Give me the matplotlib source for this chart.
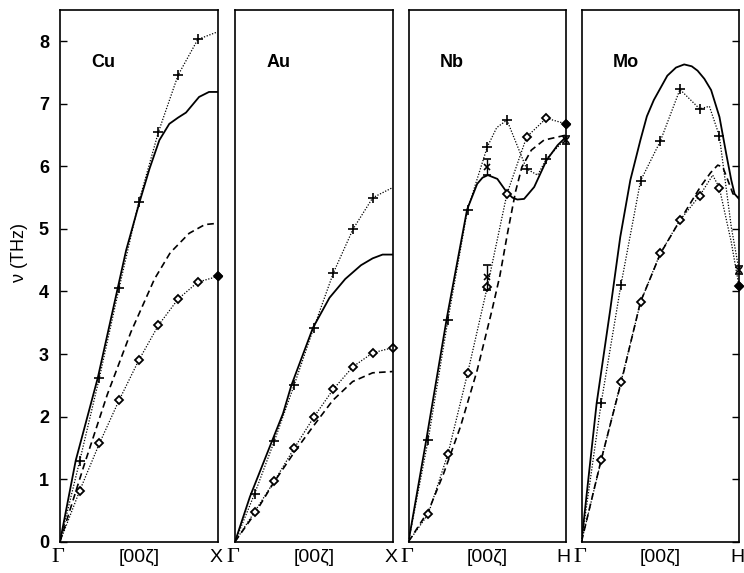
import matplotlib
matplotlib.use("Agg")
import matplotlib.pyplot as plt

plt.rcParams['font.family'] = ['Liberation Sans', 'DejaVu Sans']

# phonon frequencies (THz) along [00zeta]
# solid / dashed = calculated branches, '+' / diamond = measured branches

# Cu
cu_solid_z = [0, 0.1, 0.24, 0.42, 0.505, 0.568, 0.631, 0.694, 0.75, 0.8, 0.883, 0.946, 1.0]
cu_solid_v = [0, 1.30, 2.62, 4.66, 5.43, 5.96, 6.42, 6.68, 6.78, 6.86, 7.11, 7.19, 7.19]
cu_dash_z = [0, 0.15, 0.3, 0.45, 0.6, 0.7, 0.82, 0.92, 1.0]
cu_dash_v = [0, 1.2, 2.35, 3.35, 4.2, 4.62, 4.93, 5.07, 5.09]
cu_plus_z = [0, 0.125, 0.25, 0.375, 0.5, 0.625, 0.75, 0.875, 1.0]
cu_plus_v = [0, 1.29, 2.62, 4.05, 5.43, 6.55, 7.46, 8.03, 8.15]
cu_plus_mk = [1, 2, 3, 4, 5, 6, 7]
cu_dia_z = [0, 0.125, 0.25, 0.375, 0.5, 0.625, 0.75, 0.875, 1.0]
cu_dia_v = [0, 0.815, 1.57, 2.26, 2.90, 3.46, 3.88, 4.15, 4.24]
cu_dia_mk = [1, 2, 3, 4, 5, 6, 7, 8]

# Au
au_solid_z = [0, 0.095, 0.221, 0.305, 0.358, 0.495, 0.6, 0.7, 0.8, 0.874, 0.937, 1.0]
au_solid_v = [0, 0.72, 1.52, 2.05, 2.50, 3.42, 3.90, 4.20, 4.42, 4.53, 4.59, 4.59]
au_dash_z = [0, 0.126, 0.242, 0.379, 0.495, 0.621, 0.747, 0.874, 1.0]
au_dash_v = [0, 0.45, 0.93, 1.44, 1.84, 2.26, 2.56, 2.70, 2.72]
au_plus_z = [0, 0.125, 0.25, 0.375, 0.5, 0.625, 0.75, 0.875, 1.0]
au_plus_v = [0, 0.77, 1.61, 2.50, 3.42, 4.30, 5.00, 5.50, 5.66]
au_plus_mk = [1, 2, 3, 4, 5, 6, 7]
au_dia_z = [0, 0.125, 0.25, 0.375, 0.5, 0.625, 0.75, 0.875, 1.0]
au_dia_v = [0, 0.48, 0.97, 1.49, 1.99, 2.44, 2.80, 3.02, 3.10]
au_dia_mk = [1, 2, 3, 4, 5, 6, 7, 8]

# Nb
nb_solid_z = [0, 0.113, 0.245, 0.372, 0.436, 0.47, 0.504, 0.564, 0.623, 0.66, 0.691, 0.734, 0.798, 0.877, 0.947, 1.0]
nb_solid_v = [0, 1.63, 3.60, 5.31, 5.72, 5.82, 5.86, 5.80, 5.59, 5.50, 5.47, 5.48, 5.67, 6.10, 6.34, 6.47]
nb_dash_z = [0, 0.128, 0.223, 0.33, 0.436, 0.53, 0.58, 0.63, 0.68, 0.72, 0.78, 0.86, 1.0]
nb_dash_v = [0, 0.50, 1.09, 1.84, 2.74, 3.70, 4.25, 4.95, 5.60, 5.99, 6.26, 6.42, 6.50]
nb_plus_z = [0, 0.125, 0.25, 0.375, 0.5, 0.56, 0.625, 0.75, 0.82, 0.875, 1.0]
nb_plus_v = [0, 1.63, 3.54, 5.31, 6.31, 6.62, 6.74, 5.96, 5.86, 6.12, 6.45]
nb_plus_mk = [1, 2, 3, 4, 6, 7, 9]
nb_dia_z = [0, 0.125, 0.25, 0.375, 0.5, 0.625, 0.75, 0.875, 1.0]
nb_dia_v = [0, 0.44, 1.40, 2.69, 4.07, 5.56, 6.47, 6.77, 6.68]
nb_dia_mk = [1, 2, 3, 4, 5, 6, 7, 8]
nb_err_z = [0.5, 0.5, 1.0]
nb_err_v = [5.99, 4.23, 6.42]
nb_err_e = [0.13, 0.20, 0.06]

# Mo
mo_solid_z = [0, 0.096, 0.182, 0.246, 0.31, 0.374, 0.415, 0.459, 0.545, 0.6, 0.652, 0.7, 0.737, 0.78, 0.823, 0.876, 0.919, 0.951, 0.972, 1.0]
mo_solid_v = [0, 2.21, 3.70, 4.87, 5.78, 6.42, 6.80, 7.06, 7.45, 7.58, 7.63, 7.60, 7.53, 7.40, 7.22, 6.79, 6.20, 5.78, 5.56, 5.48]
mo_dash_z = [0, 0.124, 0.252, 0.374, 0.502, 0.626, 0.754, 0.82, 0.865, 0.897, 0.929, 0.962, 1.0]
mo_dash_v = [0, 1.30, 2.55, 3.83, 4.61, 5.14, 5.67, 5.90, 6.02, 5.99, 5.78, 5.56, 5.50]
mo_plus_z = [0, 0.125, 0.25, 0.375, 0.5, 0.625, 0.75, 0.812, 0.875, 0.951, 1.0]
mo_plus_v = [0, 2.22, 4.10, 5.77, 6.40, 7.23, 6.92, 6.96, 6.49, 5.03, 4.34]
mo_plus_mk = [1, 2, 3, 4, 5, 6, 8]
mo_dia_z = [0, 0.125, 0.25, 0.375, 0.5, 0.625, 0.75, 0.833, 0.875, 0.95, 0.985, 1.0]
mo_dia_v = [0, 1.30, 2.55, 3.83, 4.61, 5.14, 5.53, 5.86, 5.66, 4.80, 4.30, 4.09]
mo_dia_mk = [1, 2, 3, 4, 5, 6, 8, 11]
mo_err_z = [1.0]
mo_err_v = [4.34]
mo_err_e = [0.06]

panels = [
    ('Cu', 'X', (cu_solid_z, cu_solid_v), (cu_dash_z, cu_dash_v),
     (cu_plus_z, cu_plus_v, cu_plus_mk), (cu_dia_z, cu_dia_v, cu_dia_mk), None, True),
    ('Au', 'X', (au_solid_z, au_solid_v), (au_dash_z, au_dash_v),
     (au_plus_z, au_plus_v, au_plus_mk), (au_dia_z, au_dia_v, au_dia_mk), None, False),
    ('Nb', 'H', (nb_solid_z, nb_solid_v), (nb_dash_z, nb_dash_v),
     (nb_plus_z, nb_plus_v, nb_plus_mk), (nb_dia_z, nb_dia_v, nb_dia_mk),
     (nb_err_z, nb_err_v, nb_err_e), True),
    ('Mo', 'H', (mo_solid_z, mo_solid_v), (mo_dash_z, mo_dash_v),
     (mo_plus_z, mo_plus_v, mo_plus_mk), (mo_dia_z, mo_dia_v, mo_dia_mk),
     (mo_err_z, mo_err_v, mo_err_e), True),
]

W, H = 744.0, 573.0
lefts = [60, 235, 408.5, 581.5]
pw = 157.5
top, bot = 10, 541.7
yticks = [0, 1, 2, 3, 4, 5, 6, 7, 8]

fig = plt.figure(figsize=(W / 100, H / 100), dpi=100)

for i, (name, end, solid, dash, plus, dia, err, fill_end) in enumerate(panels):
    ax = fig.add_axes([lefts[i] / W, 1 - bot / H, pw / W, (bot - top) / H])
    ax.set_xlim(0, 1)
    ax.set_ylim(0, 8.5)
    for s in ax.spines.values():
        s.set_linewidth(1.2)

    ax.plot(solid[0], solid[1], color='black', lw=1.3, ls='-')
    ax.plot(dash[0], dash[1], color='black', lw=1.2, ls=(0, (4, 2.5)))
    ax.plot(plus[0], plus[1], color='black', lw=0.9, ls=(0, (1, 1.3)),
            marker='+', ms=7, mew=1.2, markevery=plus[2], clip_on=False)
    ax.plot(dia[0], dia[1], color='black', lw=0.9, ls=(0, (1, 1.3)),
            marker='D', ms=4.5, mew=1.3, mfc='white', markevery=dia[2], clip_on=False)
    if fill_end:
        ax.plot(dia[0][-1], dia[1][-1], ls='none', marker='D', ms=4.5,
                color='black', clip_on=False, zorder=5)
    if err is not None:
        ax.errorbar(err[0], err[1], yerr=err[2], fmt='x', color='black', ms=5,
                    mew=1.2, elinewidth=1.0, capsize=3, capthick=1.0, clip_on=False)

    ax.text(0.2, 0.902, name, transform=ax.transAxes, fontsize=13,
            fontweight='bold', ha='left', va='center')

    ax.set_xticks([])
    if i == 0:
        ax.set_yticks(yticks)
        ax.tick_params(axis='y', direction='in', length=5, width=1.0,
                       labelsize=13, pad=8)
        for lab in ax.get_yticklabels():
            lab.set_fontweight('bold')
    elif i == 3:
        ax.set_yticks(yticks)
        ax.yaxis.tick_right()
        ax.tick_params(axis='y', direction='in', length=5, width=1.0,
                       labelright=False)
    else:
        ax.set_yticks([])

    # bottom labels
    ly = 1 - 558 / H
    fig.text((lefts[i] - 2) / W, ly, '\u0393', family=['Liberation Serif', 'DejaVu Serif'],
             fontsize=16, ha='center', va='center')
    fig.text((lefts[i] + pw / 2) / W, ly, '[00\u03b6]', fontsize=14,
             ha='center', va='center')
    fig.text((lefts[i] + pw + 5) / W, ly, end, fontsize=14,
             ha='right', va='center')

fig.text(20 / W, 1 - 252 / H, '\u03bd (THz)', rotation=90, fontsize=13,
         ha='center', va='center')

fig.savefig('out.png', dpi=100)
